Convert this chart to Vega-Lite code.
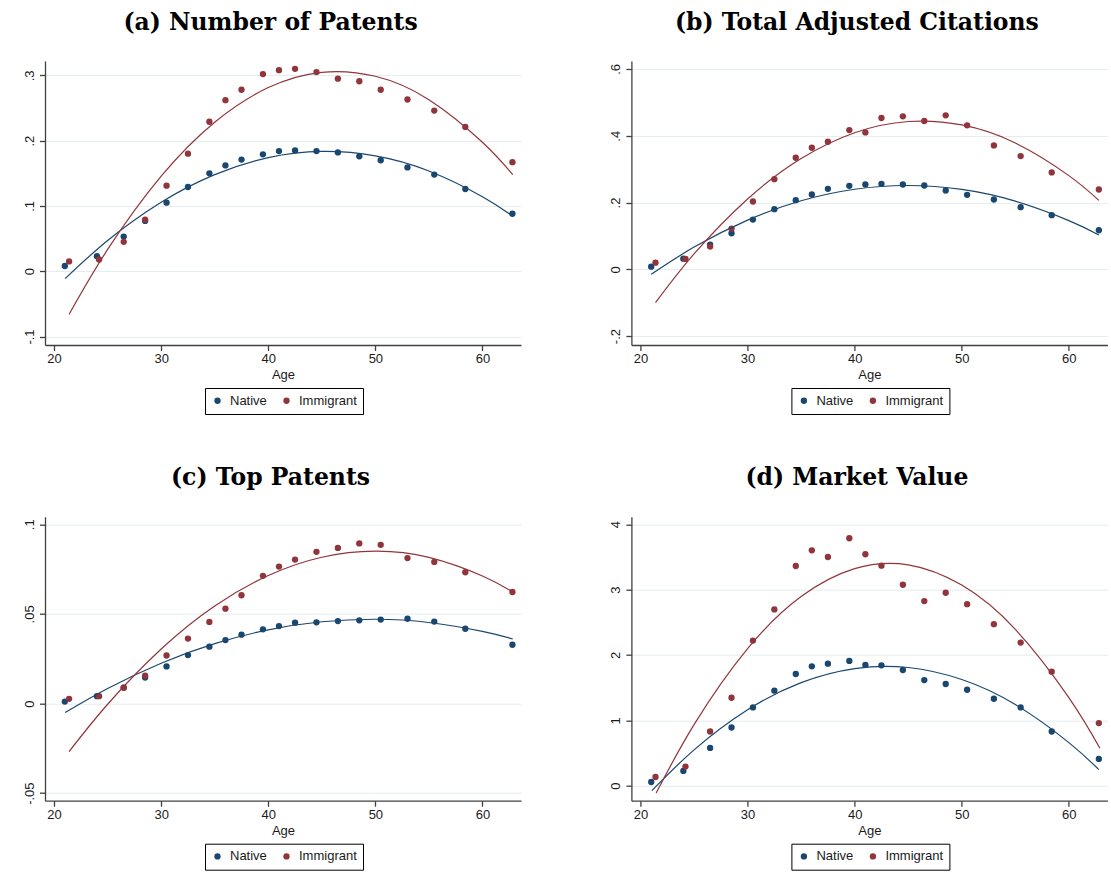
{
  "$schema": "https://vega.github.io/schema/vega-lite/v6.json",
  "background": "white",
  "padding": {"left": 23, "top": 10, "right": 0, "bottom": 0},
  "config": {
    "view": {"stroke": null},
    "font": "Liberation Sans",
    "axis": {"labelFont": "Liberation Sans", "labelFontSize": 13, "labelColor": "#1a1a1a", "titleFont": "Liberation Sans", "titleFontSize": 13, "titleFontWeight": "normal", "titleColor": "#1a1a1a", "domainColor": "#404040", "tickColor": "#404040", "domainWidth": 1.3, "tickWidth": 1.3, "tickSize": 5.5, "gridColor": "#e4edf0", "gridWidth": 1, "labelPadding": 2},
    "axisX": {"grid": false, "titlePadding": 3},
    "axisY": {"labelAngle": -90, "labelPadding": 3, "grid": true},
    "title": {"font": "DejaVu Serif", "fontSize": 23.5, "fontWeight": "bold", "color": "#000000", "anchor": "middle", "offset": 27, "dx": -12.5},
    "legend": {"strokeColor": "#000000", "padding": 6, "symbolType": "circle", "symbolSize": 40, "symbolStrokeWidth": 0, "labelFont": "Liberation Sans", "labelFontSize": 13, "labelColor": "#1a1a1a", "columnPadding": 13, "labelOffset": 6}
  },
  "datasets": {
    "patents": [
      {"age": 21.0, "group": "Native", "value": 0.008}, {"age": 24.0, "group": "Native", "value": 0.023}, {"age": 26.5, "group": "Native", "value": 0.053}, {"age": 28.5, "group": "Native", "value": 0.077}, {"age": 30.5, "group": "Native", "value": 0.105}, {"age": 32.5, "group": "Native", "value": 0.129}, {"age": 34.5, "group": "Native", "value": 0.150}, {"age": 36.0, "group": "Native", "value": 0.162}, {"age": 37.5, "group": "Native", "value": 0.171}, {"age": 39.5, "group": "Native", "value": 0.179}, {"age": 41.0, "group": "Native", "value": 0.184}, {"age": 42.5, "group": "Native", "value": 0.185}, {"age": 44.5, "group": "Native", "value": 0.184}, {"age": 46.5, "group": "Native", "value": 0.182}, {"age": 48.5, "group": "Native", "value": 0.176}, {"age": 50.5, "group": "Native", "value": 0.170}, {"age": 53.0, "group": "Native", "value": 0.159}, {"age": 55.5, "group": "Native", "value": 0.148}, {"age": 58.4, "group": "Native", "value": 0.126}, {"age": 62.8, "group": "Native", "value": 0.088},
      {"age": 21.4, "group": "Immigrant", "value": 0.015}, {"age": 24.2, "group": "Immigrant", "value": 0.018}, {"age": 26.5, "group": "Immigrant", "value": 0.045}, {"age": 28.5, "group": "Immigrant", "value": 0.079}, {"age": 30.5, "group": "Immigrant", "value": 0.131}, {"age": 32.5, "group": "Immigrant", "value": 0.180}, {"age": 34.5, "group": "Immigrant", "value": 0.229}, {"age": 36.0, "group": "Immigrant", "value": 0.262}, {"age": 37.5, "group": "Immigrant", "value": 0.278}, {"age": 39.5, "group": "Immigrant", "value": 0.302}, {"age": 41.0, "group": "Immigrant", "value": 0.308}, {"age": 42.5, "group": "Immigrant", "value": 0.310}, {"age": 44.5, "group": "Immigrant", "value": 0.305}, {"age": 46.5, "group": "Immigrant", "value": 0.295}, {"age": 48.5, "group": "Immigrant", "value": 0.291}, {"age": 50.5, "group": "Immigrant", "value": 0.278}, {"age": 53.0, "group": "Immigrant", "value": 0.263}, {"age": 55.5, "group": "Immigrant", "value": 0.246}, {"age": 58.4, "group": "Immigrant", "value": 0.221}, {"age": 62.8, "group": "Immigrant", "value": 0.167}
    ],
    "patents_fit": [
      {"age": 21.03, "group": "Native", "value": -0.0113}, {"age": 25, "group": "Native", "value": 0.0471}, {"age": 30, "group": "Native", "value": 0.1057}, {"age": 35, "group": "Native", "value": 0.1480}, {"age": 40, "group": "Native", "value": 0.1740}, {"age": 45, "group": "Native", "value": 0.1835}, {"age": 50, "group": "Native", "value": 0.1768}, {"age": 55, "group": "Native", "value": 0.1536}, {"age": 60, "group": "Native", "value": 0.1142}, {"age": 62.83, "group": "Native", "value": 0.0844},
      {"age": 21.4, "group": "Immigrant", "value": -0.066}, {"age": 25, "group": "Immigrant", "value": 0.0334}, {"age": 30, "group": "Immigrant", "value": 0.1456}, {"age": 35, "group": "Immigrant", "value": 0.2283}, {"age": 40, "group": "Immigrant", "value": 0.2813}, {"age": 45, "group": "Immigrant", "value": 0.3047}, {"age": 50, "group": "Immigrant", "value": 0.2986}, {"age": 55, "group": "Immigrant", "value": 0.2628}, {"age": 60, "group": "Immigrant", "value": 0.1975}, {"age": 62.83, "group": "Immigrant", "value": 0.148}
    ],
    "citations": [
      {"age": 21.0, "group": "Native", "value": 0.008}, {"age": 24.0, "group": "Native", "value": 0.032}, {"age": 26.5, "group": "Native", "value": 0.074}, {"age": 28.5, "group": "Native", "value": 0.108}, {"age": 30.5, "group": "Native", "value": 0.149}, {"age": 32.5, "group": "Native", "value": 0.180}, {"age": 34.5, "group": "Native", "value": 0.207}, {"age": 36.0, "group": "Native", "value": 0.224}, {"age": 37.5, "group": "Native", "value": 0.241}, {"age": 39.5, "group": "Native", "value": 0.250}, {"age": 41.0, "group": "Native", "value": 0.254}, {"age": 42.5, "group": "Native", "value": 0.256}, {"age": 44.5, "group": "Native", "value": 0.254}, {"age": 46.5, "group": "Native", "value": 0.251}, {"age": 48.5, "group": "Native", "value": 0.236}, {"age": 50.5, "group": "Native", "value": 0.223}, {"age": 53.0, "group": "Native", "value": 0.209}, {"age": 55.5, "group": "Native", "value": 0.186}, {"age": 58.4, "group": "Native", "value": 0.162}, {"age": 62.8, "group": "Native", "value": 0.117},
      {"age": 21.4, "group": "Immigrant", "value": 0.020}, {"age": 24.2, "group": "Immigrant", "value": 0.031}, {"age": 26.5, "group": "Immigrant", "value": 0.068}, {"age": 28.5, "group": "Immigrant", "value": 0.122}, {"age": 30.5, "group": "Immigrant", "value": 0.203}, {"age": 32.5, "group": "Immigrant", "value": 0.270}, {"age": 34.5, "group": "Immigrant", "value": 0.334}, {"age": 36.0, "group": "Immigrant", "value": 0.364}, {"age": 37.5, "group": "Immigrant", "value": 0.382}, {"age": 39.5, "group": "Immigrant", "value": 0.417}, {"age": 41.0, "group": "Immigrant", "value": 0.410}, {"age": 42.5, "group": "Immigrant", "value": 0.453}, {"age": 44.5, "group": "Immigrant", "value": 0.458}, {"age": 46.5, "group": "Immigrant", "value": 0.444}, {"age": 48.5, "group": "Immigrant", "value": 0.461}, {"age": 50.5, "group": "Immigrant", "value": 0.431}, {"age": 53.0, "group": "Immigrant", "value": 0.371}, {"age": 55.5, "group": "Immigrant", "value": 0.339}, {"age": 58.4, "group": "Immigrant", "value": 0.290}, {"age": 62.8, "group": "Immigrant", "value": 0.239}
    ],
    "citations_fit": [
      {"age": 21.0, "group": "Native", "value": -0.015}, {"age": 25, "group": "Native", "value": 0.0665}, {"age": 30, "group": "Native", "value": 0.1474}, {"age": 35, "group": "Native", "value": 0.2052}, {"age": 40, "group": "Native", "value": 0.2397}, {"age": 45, "group": "Native", "value": 0.2510}, {"age": 50, "group": "Native", "value": 0.2391}, {"age": 55, "group": "Native", "value": 0.2040}, {"age": 60, "group": "Native", "value": 0.1458}, {"age": 62.8, "group": "Native", "value": 0.103},
      {"age": 21.4, "group": "Immigrant", "value": -0.0998}, {"age": 25, "group": "Immigrant", "value": 0.046}, {"age": 30, "group": "Immigrant", "value": 0.2106}, {"age": 35, "group": "Immigrant", "value": 0.3317}, {"age": 40, "group": "Immigrant", "value": 0.4089}, {"age": 45, "group": "Immigrant", "value": 0.4425}, {"age": 50, "group": "Immigrant", "value": 0.4322}, {"age": 55, "group": "Immigrant", "value": 0.3782}, {"age": 60, "group": "Immigrant", "value": 0.2805}, {"age": 62.8, "group": "Immigrant", "value": 0.2065}
    ],
    "top": [
      {"age": 21.0, "group": "Native", "value": 0.0011}, {"age": 24.0, "group": "Native", "value": 0.0041}, {"age": 26.5, "group": "Native", "value": 0.0089}, {"age": 28.5, "group": "Native", "value": 0.0145}, {"age": 30.5, "group": "Native", "value": 0.0207}, {"age": 32.5, "group": "Native", "value": 0.0270}, {"age": 34.5, "group": "Native", "value": 0.0317}, {"age": 36.0, "group": "Native", "value": 0.0354}, {"age": 37.5, "group": "Native", "value": 0.0384}, {"age": 39.5, "group": "Native", "value": 0.0414}, {"age": 41.0, "group": "Native", "value": 0.0432}, {"age": 42.5, "group": "Native", "value": 0.0451}, {"age": 44.5, "group": "Native", "value": 0.0453}, {"age": 46.5, "group": "Native", "value": 0.0460}, {"age": 48.5, "group": "Native", "value": 0.0464}, {"age": 50.5, "group": "Native", "value": 0.0468}, {"age": 53.0, "group": "Native", "value": 0.0473}, {"age": 55.5, "group": "Native", "value": 0.0457}, {"age": 58.4, "group": "Native", "value": 0.0417}, {"age": 62.8, "group": "Native", "value": 0.0328},
      {"age": 21.4, "group": "Immigrant", "value": 0.0026}, {"age": 24.2, "group": "Immigrant", "value": 0.0041}, {"age": 26.5, "group": "Immigrant", "value": 0.0088}, {"age": 28.5, "group": "Immigrant", "value": 0.0155}, {"age": 30.5, "group": "Immigrant", "value": 0.0268}, {"age": 32.5, "group": "Immigrant", "value": 0.0362}, {"age": 34.5, "group": "Immigrant", "value": 0.0455}, {"age": 36.0, "group": "Immigrant", "value": 0.0529}, {"age": 37.5, "group": "Immigrant", "value": 0.0604}, {"age": 39.5, "group": "Immigrant", "value": 0.0712}, {"age": 41.0, "group": "Immigrant", "value": 0.0764}, {"age": 42.5, "group": "Immigrant", "value": 0.0803}, {"age": 44.5, "group": "Immigrant", "value": 0.0846}, {"age": 46.5, "group": "Immigrant", "value": 0.0868}, {"age": 48.5, "group": "Immigrant", "value": 0.0893}, {"age": 50.5, "group": "Immigrant", "value": 0.0885}, {"age": 53.0, "group": "Immigrant", "value": 0.0811}, {"age": 55.5, "group": "Immigrant", "value": 0.0790}, {"age": 58.4, "group": "Immigrant", "value": 0.0732}, {"age": 62.8, "group": "Immigrant", "value": 0.0622}
    ],
    "top_fit": [
      {"age": 21.03, "group": "Native", "value": -0.0050}, {"age": 25, "group": "Native", "value": 0.0084}, {"age": 30, "group": "Native", "value": 0.0225}, {"age": 35, "group": "Native", "value": 0.0334}, {"age": 40, "group": "Native", "value": 0.0411}, {"age": 45, "group": "Native", "value": 0.0456}, {"age": 50, "group": "Native", "value": 0.0470}, {"age": 55, "group": "Native", "value": 0.0452}, {"age": 60, "group": "Native", "value": 0.0402}, {"age": 62.83, "group": "Native", "value": 0.0360},
      {"age": 21.4, "group": "Immigrant", "value": -0.0268}, {"age": 25, "group": "Immigrant", "value": -0.0004}, {"age": 30, "group": "Immigrant", "value": 0.0304}, {"age": 35, "group": "Immigrant", "value": 0.0544}, {"age": 40, "group": "Immigrant", "value": 0.0714}, {"age": 45, "group": "Immigrant", "value": 0.0816}, {"age": 50, "group": "Immigrant", "value": 0.0850}, {"age": 55, "group": "Immigrant", "value": 0.0815}, {"age": 60, "group": "Immigrant", "value": 0.0711}, {"age": 62.83, "group": "Immigrant", "value": 0.0622}
    ],
    "market": [
      {"age": 21.0, "group": "Native", "value": 0.056}, {"age": 24.0, "group": "Native", "value": 0.225}, {"age": 26.5, "group": "Native", "value": 0.578}, {"age": 28.5, "group": "Native", "value": 0.890}, {"age": 30.5, "group": "Native", "value": 1.197}, {"age": 32.5, "group": "Native", "value": 1.453}, {"age": 34.5, "group": "Native", "value": 1.708}, {"age": 36.0, "group": "Native", "value": 1.826}, {"age": 37.5, "group": "Native", "value": 1.867}, {"age": 39.5, "group": "Native", "value": 1.908}, {"age": 41.0, "group": "Native", "value": 1.847}, {"age": 42.5, "group": "Native", "value": 1.841}, {"age": 44.5, "group": "Native", "value": 1.770}, {"age": 46.5, "group": "Native", "value": 1.616}, {"age": 48.5, "group": "Native", "value": 1.555}, {"age": 50.5, "group": "Native", "value": 1.468}, {"age": 53.0, "group": "Native", "value": 1.330}, {"age": 55.5, "group": "Native", "value": 1.197}, {"age": 58.4, "group": "Native", "value": 0.829}, {"age": 62.8, "group": "Native", "value": 0.409},
      {"age": 21.4, "group": "Immigrant", "value": 0.133}, {"age": 24.2, "group": "Immigrant", "value": 0.292}, {"age": 26.5, "group": "Immigrant", "value": 0.829}, {"age": 28.5, "group": "Immigrant", "value": 1.345}, {"age": 30.5, "group": "Immigrant", "value": 2.220}, {"age": 32.5, "group": "Immigrant", "value": 2.696}, {"age": 34.5, "group": "Immigrant", "value": 3.361}, {"age": 36.0, "group": "Immigrant", "value": 3.601}, {"age": 37.5, "group": "Immigrant", "value": 3.499}, {"age": 39.5, "group": "Immigrant", "value": 3.785}, {"age": 41.0, "group": "Immigrant", "value": 3.540}, {"age": 42.5, "group": "Immigrant", "value": 3.366}, {"age": 44.5, "group": "Immigrant", "value": 3.074}, {"age": 46.5, "group": "Immigrant", "value": 2.824}, {"age": 48.5, "group": "Immigrant", "value": 2.951}, {"age": 50.5, "group": "Immigrant", "value": 2.777}, {"age": 53.0, "group": "Immigrant", "value": 2.471}, {"age": 55.5, "group": "Immigrant", "value": 2.189}, {"age": 58.4, "group": "Immigrant", "value": 1.744}, {"age": 62.8, "group": "Immigrant", "value": 0.957}
    ],
    "market_fit": [
      {"age": 21.06, "group": "Native", "value": -0.077}, {"age": 25, "group": "Native", "value": 0.548}, {"age": 30, "group": "Native", "value": 1.162}, {"age": 35, "group": "Native", "value": 1.577}, {"age": 40, "group": "Native", "value": 1.792}, {"age": 45, "group": "Native", "value": 1.808}, {"age": 50, "group": "Native", "value": 1.625}, {"age": 55, "group": "Native", "value": 1.242}, {"age": 60, "group": "Native", "value": 0.659}, {"age": 62.8, "group": "Native", "value": 0.246},
      {"age": 21.46, "group": "Immigrant", "value": -0.113}, {"age": 25, "group": "Immigrant", "value": 0.934}, {"age": 30, "group": "Immigrant", "value": 2.097}, {"age": 35, "group": "Immigrant", "value": 2.893}, {"age": 40, "group": "Immigrant", "value": 3.320}, {"age": 45, "group": "Immigrant", "value": 3.379}, {"age": 50, "group": "Immigrant", "value": 3.069}, {"age": 55, "group": "Immigrant", "value": 2.392}, {"age": 60, "group": "Immigrant", "value": 1.346}, {"age": 62.9, "group": "Immigrant", "value": 0.573}
    ]
  },
  "concat": [
    {
      "title": "(a) Number of Patents",
      "width": 476, "height": 284,
      "layer": [
        {"data": {"name": "patents"},
         "mark": {"type": "point", "filled": true, "size": 40, "opacity": 1},
         "encoding": {
           "x": {"field": "age", "type": "quantitative", "title": "Age", "scale": {"domain": [19.15, 63.6], "nice": false, "zero": false}, "axis": {"values": [20, 30, 40, 50, 60]}},
           "y": {"field": "value", "type": "quantitative", "title": null, "scale": {"domain": [-0.113, 0.322], "nice": false, "zero": false}, "axis": {"values": [-0.1, 0, 0.1, 0.2, 0.3], "labelExpr": "replace(toString(datum.value), '0.', '.')"}},
           "fill": {"field": "group", "type": "nominal", "sort": ["Native", "Immigrant"], "scale": {"domain": ["Native", "Immigrant"], "range": ["#1a476f", "#90353b"]}, "legend": {"title": null, "orient": "none", "direction": "horizontal", "legendX": 160, "legendY": 327}}
         }},
        {"data": {"name": "patents_fit"},
         "mark": {"type": "line", "strokeWidth": 1.2, "interpolate": "natural"},
         "encoding": {
           "x": {"field": "age", "type": "quantitative"},
           "y": {"field": "value", "type": "quantitative"},
           "stroke": {"field": "group", "type": "nominal", "legend": null, "scale": {"domain": ["Native", "Immigrant"], "range": ["#1a476f", "#90353b"]}}
         }}
      ]
    },
    {
      "title": "(b) Total Adjusted Citations",
      "width": 476, "height": 284,
      "layer": [
        {"data": {"name": "citations"},
         "mark": {"type": "point", "filled": true, "size": 40, "opacity": 1},
         "encoding": {
           "x": {"field": "age", "type": "quantitative", "title": "Age", "scale": {"domain": [19.15, 63.6], "nice": false, "zero": false}, "axis": {"values": [20, 30, 40, 50, 60]}},
           "y": {"field": "value", "type": "quantitative", "title": null, "scale": {"domain": [-0.2266, 0.6237], "nice": false, "zero": false}, "axis": {"values": [-0.2, 0, 0.2, 0.4, 0.6], "labelExpr": "replace(toString(datum.value), '0.', '.')"}},
           "fill": {"field": "group", "type": "nominal", "sort": ["Native", "Immigrant"], "scale": {"domain": ["Native", "Immigrant"], "range": ["#1a476f", "#90353b"]}, "legend": {"title": null, "orient": "none", "direction": "horizontal", "legendX": 160, "legendY": 327}}
         }},
        {"data": {"name": "citations_fit"},
         "mark": {"type": "line", "strokeWidth": 1.2, "interpolate": "natural"},
         "encoding": {
           "x": {"field": "age", "type": "quantitative"},
           "y": {"field": "value", "type": "quantitative"},
           "stroke": {"field": "group", "type": "nominal", "legend": null, "scale": {"domain": ["Native", "Immigrant"], "range": ["#1a476f", "#90353b"]}}
         }}
      ]
    },
    {
      "title": "(c) Top Patents",
      "width": 476, "height": 284,
      "layer": [
        {"data": {"name": "top"},
         "mark": {"type": "point", "filled": true, "size": 40, "opacity": 1},
         "encoding": {
           "x": {"field": "age", "type": "quantitative", "title": "Age", "scale": {"domain": [19.15, 63.6], "nice": false, "zero": false}, "axis": {"values": [20, 30, 40, 50, 60]}},
           "y": {"field": "value", "type": "quantitative", "title": null, "scale": {"domain": [-0.0542, 0.1042], "nice": false, "zero": false}, "axis": {"values": [-0.05, 0, 0.05, 0.1], "labelExpr": "replace(toString(datum.value), '0.', '.')"}},
           "fill": {"field": "group", "type": "nominal", "sort": ["Native", "Immigrant"], "scale": {"domain": ["Native", "Immigrant"], "range": ["#1a476f", "#90353b"]}, "legend": {"title": null, "orient": "none", "direction": "horizontal", "legendX": 160, "legendY": 327}}
         }},
        {"data": {"name": "top_fit"},
         "mark": {"type": "line", "strokeWidth": 1.2, "interpolate": "natural"},
         "encoding": {
           "x": {"field": "age", "type": "quantitative"},
           "y": {"field": "value", "type": "quantitative"},
           "stroke": {"field": "group", "type": "nominal", "legend": null, "scale": {"domain": ["Native", "Immigrant"], "range": ["#1a476f", "#90353b"]}}
         }}
      ]
    },
    {
      "title": "(d) Market Value",
      "width": 476, "height": 284,
      "layer": [
        {"data": {"name": "market"},
         "mark": {"type": "point", "filled": true, "size": 40, "opacity": 1},
         "encoding": {
           "x": {"field": "age", "type": "quantitative", "title": "Age", "scale": {"domain": [19.15, 63.6], "nice": false, "zero": false}, "axis": {"values": [20, 30, 40, 50, 60]}},
           "y": {"field": "value", "type": "quantitative", "title": null, "scale": {"domain": [-0.23, 4.115], "nice": false, "zero": false}, "axis": {"values": [0, 1, 2, 3, 4], "labelExpr": "replace(toString(datum.value), '0.', '.')"}},
           "fill": {"field": "group", "type": "nominal", "sort": ["Native", "Immigrant"], "scale": {"domain": ["Native", "Immigrant"], "range": ["#1a476f", "#90353b"]}, "legend": {"title": null, "orient": "none", "direction": "horizontal", "legendX": 160, "legendY": 327}}
         }},
        {"data": {"name": "market_fit"},
         "mark": {"type": "line", "strokeWidth": 1.2, "interpolate": "natural"},
         "encoding": {
           "x": {"field": "age", "type": "quantitative"},
           "y": {"field": "value", "type": "quantitative"},
           "stroke": {"field": "group", "type": "nominal", "legend": null, "scale": {"domain": ["Native", "Immigrant"], "range": ["#1a476f", "#90353b"]}}
         }}
      ]
    }
  ],
  "columns": 2,
  "spacing": {"row": 171.7, "column": 110.4},
  "bounds": "flush",
  "resolve": {"scale": {"x": "independent", "y": "independent", "fill": "independent", "stroke": "independent"}, "legend": {"fill": "independent"}}
}
